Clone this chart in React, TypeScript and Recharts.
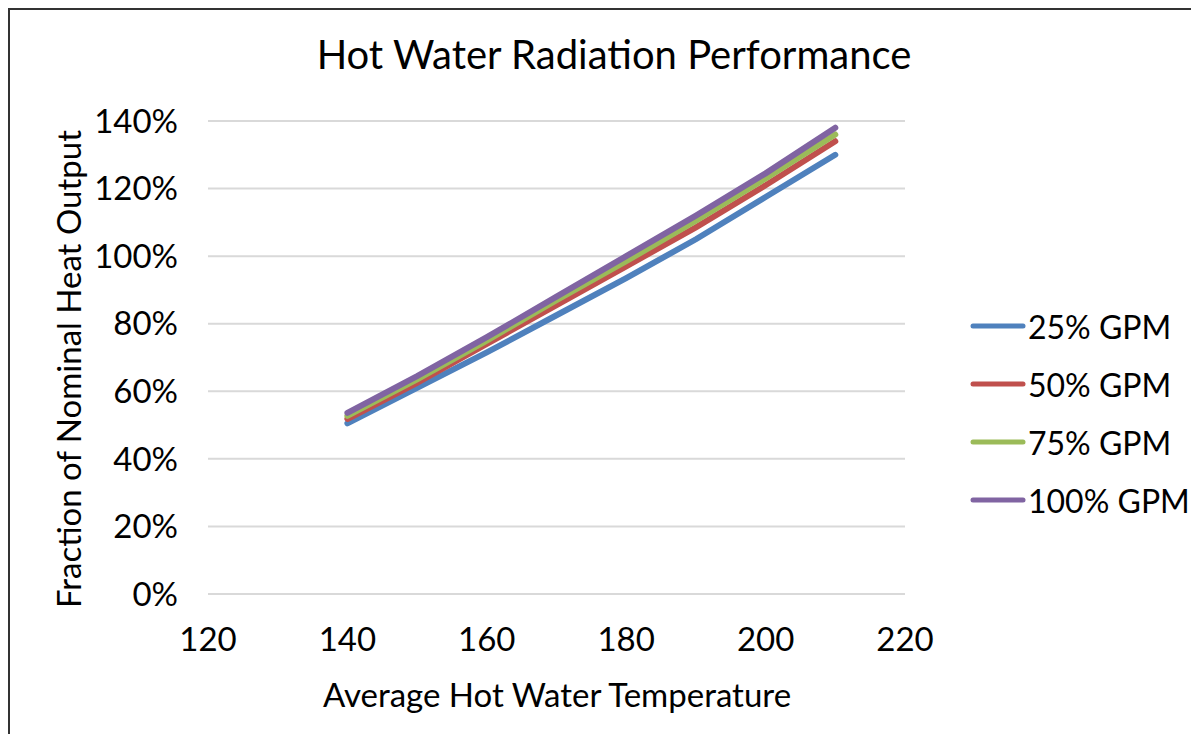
import { LineChart, Line, XAxis, YAxis, CartesianGrid, Label } from "recharts";

const temps = [140, 150, 160, 170, 180, 190, 200, 210];
const gpm25 = [50.5, 61, 71.5, 82.5, 93.5, 105, 117.5, 130];
const gpm50 = [51.8, 62.5, 74, 85.5, 97, 108.5, 121, 134];
const gpm75 = [52.7, 63.5, 75, 87, 98.5, 110.5, 123, 136];
const gpm100 = [53.6, 64.5, 76, 88, 100, 112, 124.5, 138];
const xTicks = [120, 140, 160, 180, 200, 220];
const yTicks = [0, 20, 40, 60, 80, 100, 120, 140];

const series = [
  { key: "g25", name: "25% GPM", color: "#4F81BD", values: gpm25 },
  { key: "g50", name: "50% GPM", color: "#C0504D", values: gpm50 },
  { key: "g75", name: "75% GPM", color: "#9BBB59", values: gpm75 },
  { key: "g100", name: "100% GPM", color: "#8064A2", values: gpm100 },
];

const data = temps.map((t, i) => {
  const row: any = { temp: t };
  series.forEach((s) => (row[s.key] = s.values[i]));
  return row;
});

const FONT = "Lato, 'Open Sans', sans-serif";

export default function App() {
  return (
    <div
      style={{
        position: "relative",
        width: 1183,
        height: 726,
        borderTop: "2px solid #333",
        borderLeft: "2px solid #333",
        boxSizing: "border-box",
        overflow: "hidden",
        background: "#fff",
      }}
    >
      <div
        style={{
          position: "absolute",
          top: 20,
          left: 0,
          width: 1208,
          textAlign: "center",
          fontFamily: FONT,
          fontSize: 40,
          color: "#000",
        }}
      >
        Hot Water Radiation Performance
      </div>
      <div style={{ position: "absolute", left: -2, top: -2 }}>
        <LineChart
          width={1183}
          height={726}
          data={data}
          margin={{ top: 113, right: 286, left: 0, bottom: 0 }}
        >
          <CartesianGrid horizontal vertical={false} stroke="#D9D9D9" strokeWidth={2} />
          <XAxis
            dataKey="temp"
            type="number"
            domain={[120, 220]}
            ticks={xTicks}
            height={140}
            axisLine={false}
            tickLine={false}
            tickMargin={28}
            tick={{ fill: "#000", fontSize: 33, fontFamily: FONT }}
          >
            <Label
              content={() => (
                <text
                  x={549}
                  y={686}
                  textAnchor="middle"
                  dominantBaseline="central"
                  style={{ fill: "#000", fontSize: 33, fontFamily: FONT }}
                >
                  Average Hot Water Temperature
                </text>
              )}
            />
          </XAxis>
          <YAxis
            type="number"
            domain={[0, 140]}
            ticks={yTicks}
            width={200}
            axisLine={false}
            tickLine={false}
            tickMargin={24}
            tickFormatter={(v: number) => `${v}%`}
            tick={{ fill: "#000", fontSize: 33, fontFamily: FONT }}
          >
            <Label
              content={() => (
                <text
                  x={60}
                  y={361}
                  transform="rotate(-90 60 361)"
                  textAnchor="middle"
                  dominantBaseline="central"
                  style={{ fill: "#000", fontSize: 33, fontFamily: FONT }}
                >
                  Fraction of Nominal Heat Output
                </text>
              )}
            />
          </YAxis>
          {series.map((s) => (
            <Line
              key={s.key}
              dataKey={s.key}
              name={s.name}
              stroke={s.color}
              strokeWidth={6}
              strokeLinecap="round"
              dot={false}
              type="linear"
              isAnimationActive={false}
            />
          ))}
        </LineChart>
      </div>
      <div style={{ position: "absolute", left: 960, top: 287, fontFamily: FONT }}>
        {series.map((s) => (
          <div key={s.key} style={{ display: "flex", alignItems: "center", height: 58 }}>
            <svg width={56} height={10}>
              <line x1={3} y1={5} x2={53} y2={5} stroke={s.color} strokeWidth={5} strokeLinecap="round" />
            </svg>
            <span style={{ fontSize: 32, color: "#000", marginLeft: 2 }}>{s.name}</span>
          </div>
        ))}
      </div>
    </div>
  );
}
